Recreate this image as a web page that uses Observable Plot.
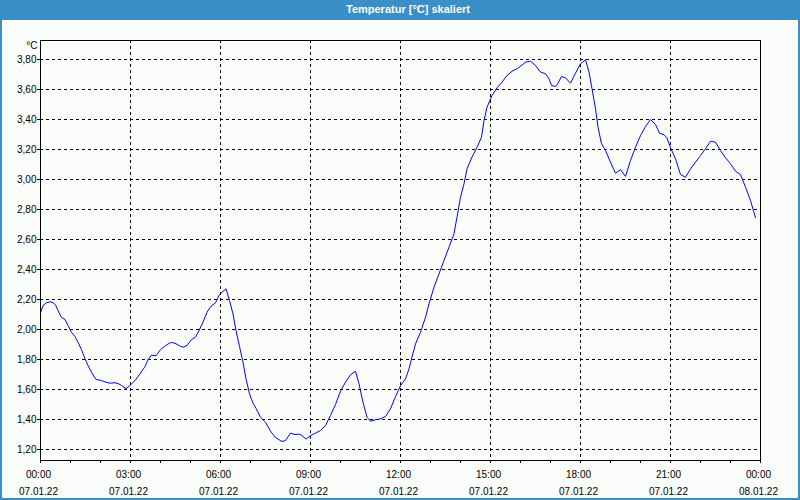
<!DOCTYPE html>
<html>
<head>
<meta charset="utf-8">
<script src="https://cdn.jsdelivr.net/npm/d3@7"></script>
<script src="https://cdn.jsdelivr.net/npm/@observablehq/plot@0.6"></script>
<style>
  html, body { margin: 0; padding: 0; background: #fbfdfb; }
  #wrap { position: relative; width: 800px; height: 500px; overflow: hidden; background: #fbfdfb; }
  #title { position: absolute; left: 0; top: 0; width: 800px; height: 20px; background: #3b8fc7;
           color: #fff; font: bold 11px "Liberation Sans", Arial, sans-serif; line-height: 19px;
           text-align: center; box-sizing: border-box; padding-left: 16px; }
  #chart { position: absolute; left: 0; top: 20px; }
  #border { position: absolute; left: 0; top: 20px; width: 800px; height: 480px; box-sizing: border-box;
            border: 2px solid #3b8fc7; border-top: none; pointer-events: none; }
</style>
</head>
<body>
<div id="wrap">
  <div id="title">Temperatur [°C] skaliert</div>
  <div id="chart"></div>
  <div id="border"></div>
</div>
<script>
// Minutes since 07.01.22 00:00
const minutes = [0,5,12,19,25,30,35,42,49,55,62,69,75,82,89,95,102,111,119,129,139,149,155,162,171,179,189,199,209,215,222,231,240,250,260,269,278,285,293,302,310,317,325,333,341,350,358,365,371,378,385,391,398,405,411,418,425,431,440,450,460,470,483,490,500,509,518,523,531,540,550,560,570,580,590,600,610,620,630,637,645,653,660,670,680,690,700,710,720,730,737,742,750,760,770,777,787,797,807,817,827,833,840,847,853,863,873,882,887,893,903,913,923,933,943,953,960,970,980,990,1000,1010,1017,1022,1030,1035,1042,1050,1060,1070,1080,1090,1097,1103,1110,1115,1122,1130,1140,1150,1160,1170,1180,1190,1200,1210,1220,1230,1238,1247,1253,1260,1270,1280,1290,1300,1310,1320,1330,1340,1350,1360,1370,1380,1390,1400,1410,1420,1430];
// Temperature [°C]
const values = [2.11,2.16,2.178,2.185,2.178,2.165,2.127,2.08,2.067,2.027,1.98,1.953,1.915,1.865,1.805,1.76,1.715,1.667,1.662,1.651,1.642,1.645,1.64,1.627,1.605,1.627,1.66,1.705,1.753,1.798,1.829,1.825,1.866,1.893,1.913,1.909,1.891,1.882,1.893,1.933,1.949,1.993,2.049,2.115,2.155,2.178,2.233,2.255,2.271,2.193,2.104,1.993,1.887,1.782,1.671,1.571,1.509,1.475,1.415,1.382,1.322,1.28,1.253,1.26,1.309,1.30,1.302,1.293,1.269,1.293,1.309,1.327,1.36,1.427,1.50,1.589,1.649,1.698,1.722,1.638,1.515,1.415,1.389,1.398,1.405,1.42,1.471,1.553,1.625,1.671,1.738,1.804,1.904,1.982,2.082,2.171,2.282,2.371,2.46,2.549,2.638,2.749,2.882,2.971,3.071,3.149,3.215,3.282,3.393,3.482,3.56,3.611,3.649,3.693,3.722,3.738,3.755,3.782,3.789,3.76,3.716,3.705,3.671,3.627,3.62,3.642,3.687,3.678,3.642,3.709,3.771,3.798,3.716,3.605,3.471,3.349,3.238,3.193,3.115,3.042,3.065,3.02,3.127,3.215,3.293,3.353,3.40,3.367,3.309,3.298,3.278,3.211,3.138,3.033,3.015,3.071,3.115,3.16,3.205,3.255,3.249,3.193,3.145,3.105,3.055,3.033,2.949,2.86,2.745];
// Axis ticks
const yTicks = [1.2, 1.4, 1.6, 1.8, 2.0, 2.2, 2.4, 2.6, 2.8, 3.0, 3.2, 3.4, 3.6, 3.8];
const xLabelHours = [0, 3, 6, 9, 12, 15, 18, 21, 24];
const xMinorHours = [0,1,2,3,4,5,6,7,8,9,10,11,12,13,14,15,16,17,18,19,20,21,22,23,24];
const yDomain = [1.1267, 3.9267];
const yUnit = "°C";

const at = (h, m = 0) => new Date(2022, 0, 7, h, m);
const data = minutes.map((m, i) => ({t: at(0, m), v: values[i]}));
const labelTicks = xLabelHours.map(h => at(h));
const minorTicks = xMinorHours.map(h => at(h));
const fmt = d3.timeFormat("%H:%M\n%d.%m.%y");
const dash = {stroke: "#000", strokeOpacity: 1, strokeWidth: 1, strokeDasharray: "3,3"};

const chart = Plot.plot({
  width: 800,
  height: 480,
  marginLeft: 40,
  marginRight: 40,
  marginTop: 20,
  marginBottom: 40,
  style: {background: "transparent", fontFamily: "'Liberation Sans', Arial, sans-serif", fontSize: "10px", color: "#000"},
  x: {type: "time", domain: [at(0), at(24)]},
  y: {domain: yDomain},
  marks: [
    Plot.gridX(labelTicks, dash),
    Plot.gridY(yTicks, dash),
    Plot.axisX(minorTicks, {tickSize: 3, tickFormat: () => "", label: null, stroke: "#000"}),
    Plot.axisX(labelTicks, {tickSize: 0, tickPadding: 5, tickFormat: fmt, lineHeight: 1.7, dx: -2, label: null, fill: "#000"}),
    Plot.axisY(yTicks, {tickSize: 3, tickPadding: 1, tickFormat: d => d.toFixed(2).replace(".", ","), label: null, fill: "#000", stroke: "#000"}),
    Plot.line(data, {x: "t", y: "v", stroke: "#0000ff", strokeWidth: 1}),
    Plot.frame({stroke: "#000"}),
    Plot.text([yUnit], {text: d => d, frameAnchor: "top-left", textAnchor: "end", lineAnchor: "top", dx: -3, dy: 1, fill: "#000"})
  ]
});
document.getElementById("chart").appendChild(chart);
</script>
</body>
</html>
